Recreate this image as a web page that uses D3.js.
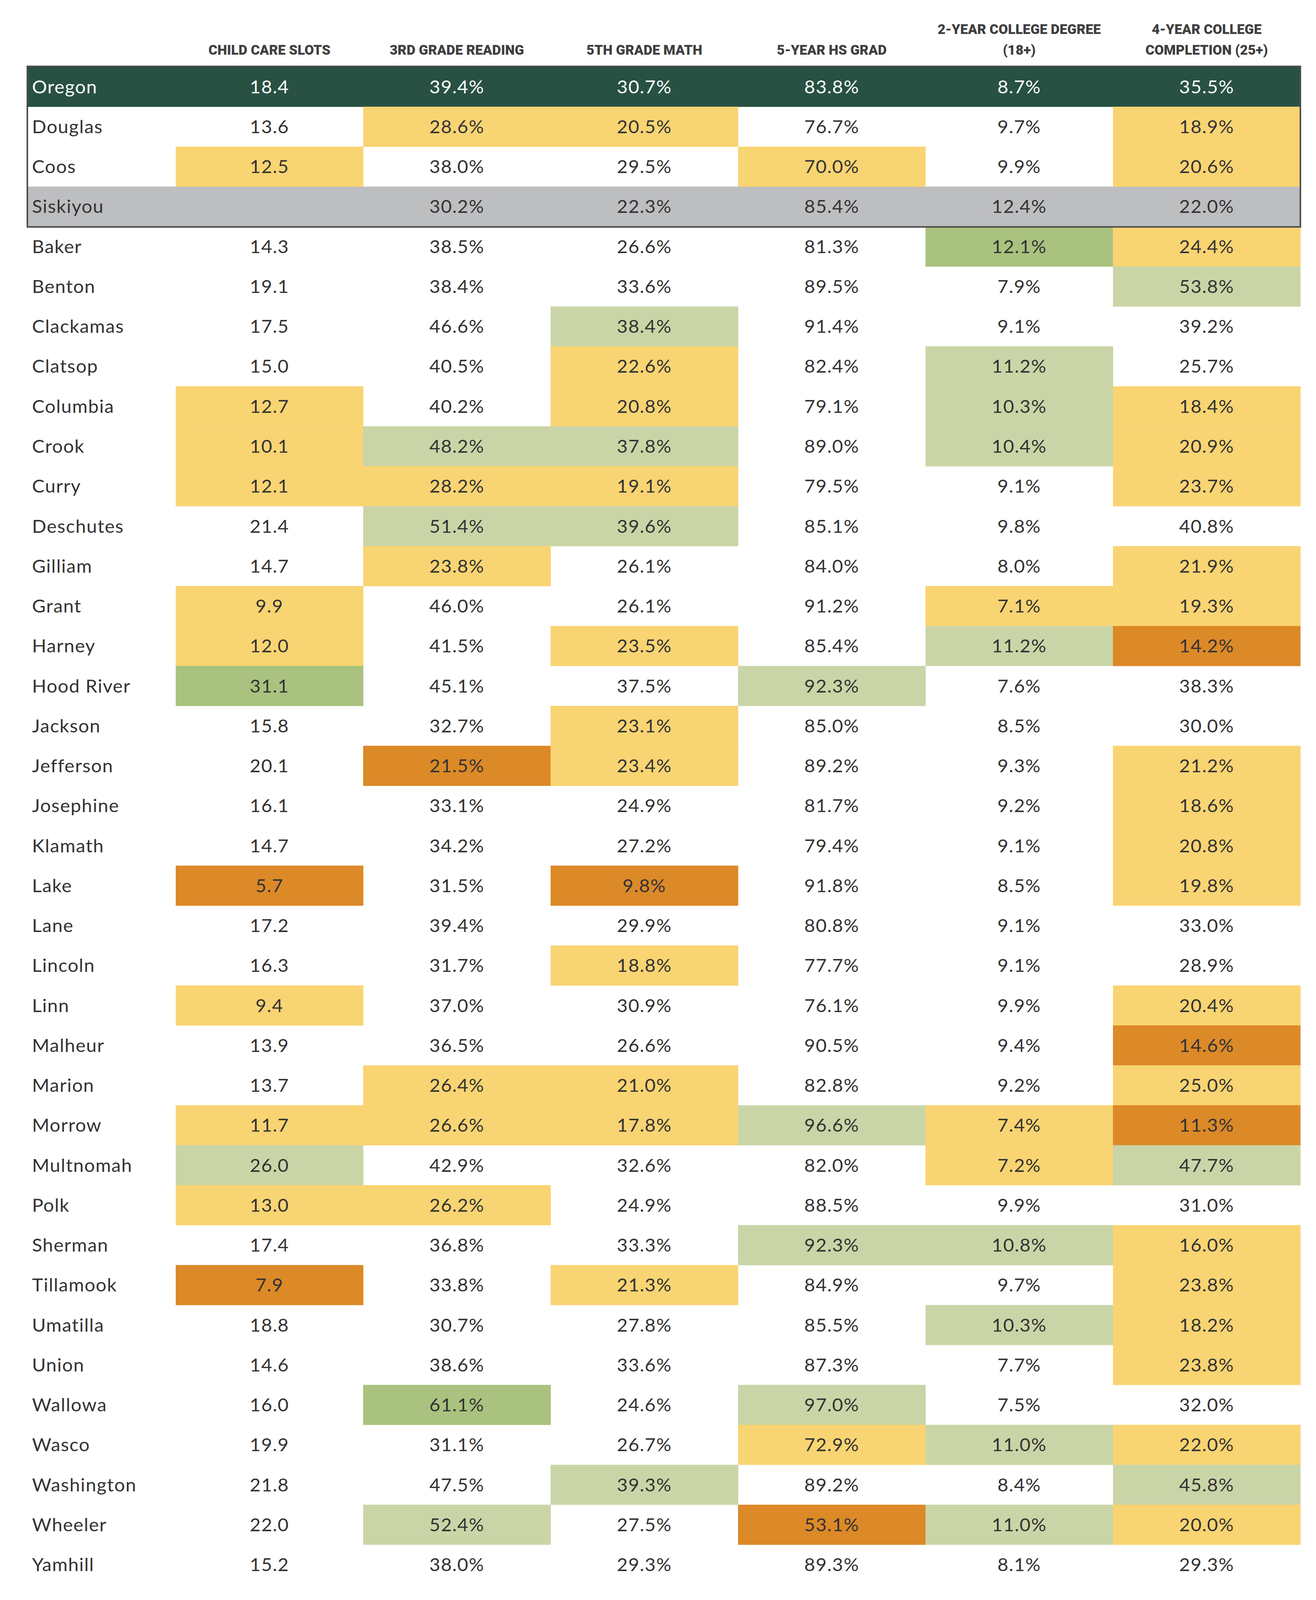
<!DOCTYPE html>
<html>
<head>
<meta charset="utf-8">
<script src="https://cdn.jsdelivr.net/npm/d3@7/dist/d3.min.js"></script>
<style>
  html, body { margin: 0; padding: 0; background: #ffffff; overflow: hidden; }
  svg { display: block; width: 100vw; height: 100vh; }
</style>
</head>
<body>
<svg id="chart" viewBox="0 0 3370 4170" preserveAspectRatio="none"></svg>
<script>
// ---------- DATA ----------
const counties = ["Oregon","Douglas","Coos","Siskiyou","Baker","Benton","Clackamas","Clatsop","Columbia","Crook","Curry","Deschutes","Gilliam","Grant","Harney","Hood River","Jackson","Jefferson","Josephine","Klamath","Lake","Lane","Lincoln","Linn","Malheur","Marion","Morrow","Multnomah","Polk","Sherman","Tillamook","Umatilla","Union","Wallowa","Wasco","Washington","Wheeler","Yamhill"];

const headerLines = [
  ["CHILD CARE SLOTS"],
  ["3RD GRADE READING"],
  ["5TH GRADE MATH"],
  ["5-YEAR HS GRAD"],
  ["2-YEAR COLLEGE DEGREE", "(18+)"],
  ["4-YEAR COLLEGE", "COMPLETION (25+)"]
];
const columnKeys = ["childCare","reading3","math5","hsGrad5","college2","college4"];
const isPercent = [false, true, true, true, true, true];

const childCare = [18.4,13.6,12.5,null,14.3,19.1,17.5,15.0,12.7,10.1,12.1,21.4,14.7,9.9,12.0,31.1,15.8,20.1,16.1,14.7,5.7,17.2,16.3,9.4,13.9,13.7,11.7,26.0,13.0,17.4,7.9,18.8,14.6,16.0,19.9,21.8,22.0,15.2];
const reading3  = [39.4,28.6,38.0,30.2,38.5,38.4,46.6,40.5,40.2,48.2,28.2,51.4,23.8,46.0,41.5,45.1,32.7,21.5,33.1,34.2,31.5,39.4,31.7,37.0,36.5,26.4,26.6,42.9,26.2,36.8,33.8,30.7,38.6,61.1,31.1,47.5,52.4,38.0];
const math5     = [30.7,20.5,29.5,22.3,26.6,33.6,38.4,22.6,20.8,37.8,19.1,39.6,26.1,26.1,23.5,37.5,23.1,23.4,24.9,27.2,9.8,29.9,18.8,30.9,26.6,21.0,17.8,32.6,24.9,33.3,21.3,27.8,33.6,24.6,26.7,39.3,27.5,29.3];
const hsGrad5   = [83.8,76.7,70.0,85.4,81.3,89.5,91.4,82.4,79.1,89.0,79.5,85.1,84.0,91.2,85.4,92.3,85.0,89.2,81.7,79.4,91.8,80.8,77.7,76.1,90.5,82.8,96.6,82.0,88.5,92.3,84.9,85.5,87.3,97.0,72.9,89.2,53.1,89.3];
const college2  = [8.7,9.7,9.9,12.4,12.1,7.9,9.1,11.2,10.3,10.4,9.1,9.8,8.0,7.1,11.2,7.6,8.5,9.3,9.2,9.1,8.5,9.1,9.1,9.9,9.4,9.2,7.4,7.2,9.9,10.8,9.7,10.3,7.7,7.5,11.0,8.4,11.0,8.1];
const college4  = [35.5,18.9,20.6,22.0,24.4,53.8,39.2,25.7,18.4,20.9,23.7,40.8,21.9,19.3,14.2,38.3,30.0,21.2,18.6,20.8,19.8,33.0,28.9,20.4,14.6,25.0,11.3,47.7,31.0,16.0,23.8,18.2,23.8,32.0,22.0,45.8,20.0,29.3];

// Shading category per cell: "" none, "y" below, "o" far below, "g" above, "G" far above
const childCareShade = ["","","y","","","","","","y","y","y","","","y","y","G","","","","","o","","","y","","","y","g","y","","o","","","","","","",""];
const reading3Shade  = ["","y","","","","","","","","g","y","g","y","","","","","o","","","","","","","","y","y","","y","","","","","G","","","g",""];
const math5Shade     = ["","y","","","","","g","y","y","g","y","g","","","y","","y","y","","","o","","y","","","y","y","","","","y","","","","","g","",""];
const hsGrad5Shade   = ["","","y","","","","","","","","","","","","","g","","","","","","","","","","","g","","","g","","","","g","y","","o",""];
const college2Shade  = ["","","","","G","","","g","g","g","","","","y","g","","","","","","","","","","","","y","y","","g","","g","","","g","","g",""];
const college4Shade  = ["","y","y","","y","g","","","y","y","y","","y","y","o","","","y","y","y","y","","","y","o","y","o","g","","y","y","y","y","","y","g","y",""];

const rowStyle = ["state","","","compare"].concat(d3.range(34).map(() => ""));

// ---------- STYLES ----------
const shadeColors = { y: "#F9D472", o: "#DC8928", g: "#CAD5A7", G: "#A9C27F" };
const stateFill = "#285143";
const compareFill = "#BDBEC0";
const textColor = "#333333";
const headerColor = "#3F3F3F";

const valueCols = [childCare, reading3, math5, hsGrad5, college2, college4];
const shadeCols = [childCareShade, reading3Shade, math5Shade, hsGrad5Shade, college2Shade, college4Shade];

// ---------- LAYOUT ----------
const W = 3370, H = 4170;
const tableLeft = 68, nameRight = 450, tableRight = 3330;
const tableTop = 174, rowH = 104.1;

const svg = d3.select("#chart");
svg.append("rect").attr("width", W).attr("height", H).attr("fill", "#ffffff");

const x = d3.scaleBand().domain(columnKeys).range([nameRight, tableRight]).padding(0);
const y = d3.scaleBand().domain(counties).range([tableTop, tableTop + rowH * counties.length]).padding(0);

const bodyFont = "Lato, 'Open Sans', sans-serif";
const headFont = "Roboto, 'Liberation Sans', sans-serif";

// Header
const hdr = svg.append("g").attr("class", "header");
headerLines.forEach((lines, i) => {
  const cx = x(columnKeys[i]) + x.bandwidth() / 2;
  const n = lines.length;
  lines.forEach((t, j) => {
    hdr.append("text")
      .attr("x", cx)
      .attr("y", 143 - (n - 1 - j) * 54)
      .attr("text-anchor", "middle")
      .attr("font-family", headFont)
      .attr("font-weight", 900)
      .attr("font-size", 35)
      .attr("letter-spacing", 0)
      .attr("fill", headerColor)
      .text(t);
  });
});

// Row backgrounds (state / comparison)
const rows = svg.append("g").attr("class", "rows");
counties.forEach((c, r) => {
  if (rowStyle[r] === "state" || rowStyle[r] === "compare") {
    rows.append("rect")
      .attr("x", tableLeft)
      .attr("y", y(c))
      .attr("width", tableRight - tableLeft)
      .attr("height", y.bandwidth() + 0.5)
      .attr("fill", rowStyle[r] === "state" ? stateFill : compareFill);
  }
});

// Cell shading
const cells = svg.append("g").attr("class", "cells");
columnKeys.forEach((k, i) => {
  counties.forEach((c, r) => {
    const s = shadeCols[i][r];
    if (s && shadeColors[s]) {
      cells.append("rect")
        .attr("x", x(k))
        .attr("y", y(c))
        .attr("width", x.bandwidth() + 0.5)
        .attr("height", y.bandwidth() + 0.5)
        .attr("fill", shadeColors[s]);
    }
  });
});

// County names
const names = svg.append("g").attr("class", "names");
counties.forEach((c, r) => {
  names.append("text")
    .attr("x", 82)
    .attr("y", y(c) + y.bandwidth() / 2 + 17)
    .attr("font-family", bodyFont)
    .attr("font-size", 48)
    .attr("letter-spacing", 1.5)
    .attr("fill", rowStyle[r] === "state" ? "#ffffff" : textColor)
    .text(c);
});

// Values
const vals = svg.append("g").attr("class", "values");
columnKeys.forEach((k, i) => {
  counties.forEach((c, r) => {
    const v = valueCols[i][r];
    if (v === null || v === undefined) return;
    vals.append("text")
      .attr("x", x(k) + x.bandwidth() / 2)
      .attr("y", y(c) + y.bandwidth() / 2 + 17)
      .attr("text-anchor", "middle")
      .attr("font-family", bodyFont)
      .attr("font-size", 48)
      .attr("letter-spacing", 1.5)
      .attr("fill", rowStyle[r] === "state" ? "#ffffff" : textColor)
      .text(d3.format(".1f")(v) + (isPercent[i] ? "%" : ""));
  });
});

// Border around the highlighted block (state + focus counties)
svg.append("rect")
  .attr("x", 70)
  .attr("y", tableTop - 1)
  .attr("width", tableRight - 70)
  .attr("height", y(counties[4]) - tableTop + 2)
  .attr("fill", "none")
  .attr("stroke", "#4D4D4D")
  .attr("stroke-width", 4);
</script>
</body>
</html>
